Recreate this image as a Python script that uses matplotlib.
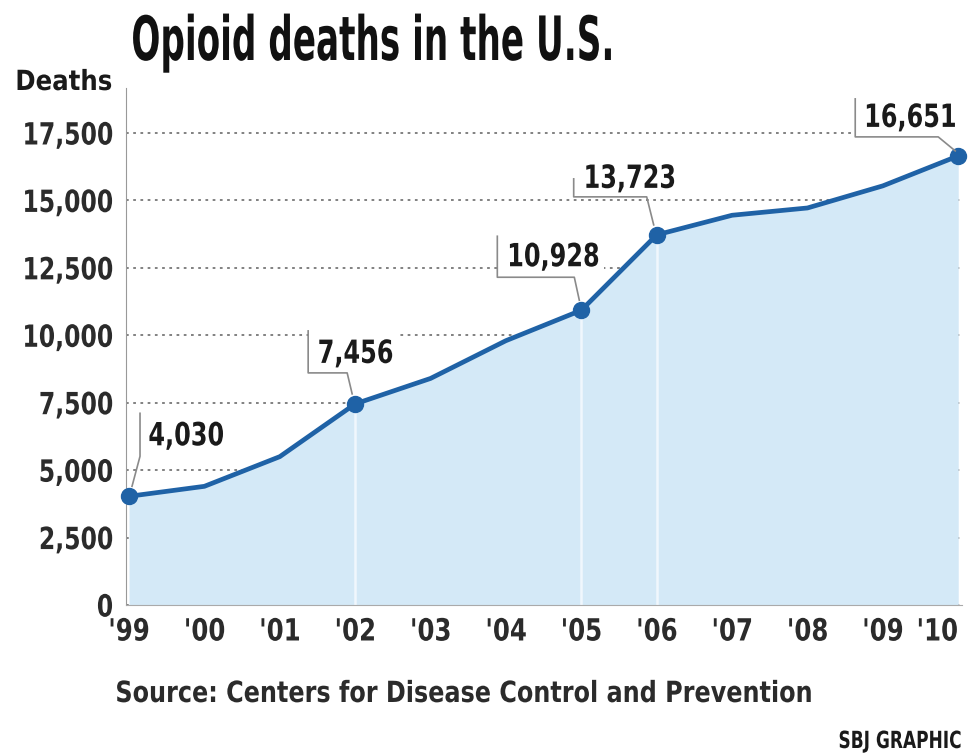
import matplotlib
matplotlib.use('Agg')
import matplotlib.pyplot as plt
from matplotlib.patches import Rectangle
from matplotlib.patheffects import AbstractPathEffect
from matplotlib.transforms import Affine2D, ScaledTranslation


class Squeeze(AbstractPathEffect):
    # narrows glyphs horizontally, keeping the left, centre or right edge in place
    def __init__(self, sx, anchor='left'):
        super().__init__()
        self.sx = sx
        self.anchor = anchor

    def draw_path(self, renderer, gc, tpath, affine, rgbFace=None):
        ext = tpath.get_extents(affine)
        x0 = {'left': ext.x0, 'center': (ext.x0 + ext.x1) / 2, 'right': ext.x1}[self.anchor]
        squeeze = Affine2D().translate(-x0, 0).scale(self.sx, 1).translate(x0, 0)
        renderer.draw_path(gc, tpath, affine + squeeze, rgbFace)


years = [1999, 2000, 2001, 2002, 2003, 2004, 2005, 2006, 2007, 2008, 2009, 2010]
deaths = [4030, 4400, 5500, 7456, 8400, 9800, 10928, 13723, 14450, 14720, 15540, 16651]
year_labels = ["'99", "'00", "'01", "'02", "'03", "'04", "'05", "'06", "'07", "'08", "'09", "'10"]
y_ticks = [0, 2500, 5000, 7500, 10000, 12500, 15000, 17500]
labeled_years = [1999, 2002, 2005, 2006, 2010]

# callout layout in pixels relative to each point: text start, then bracket polyline
callouts = {
    1999: ((19, 51), [(11, 83), (11, 40), (3, 10)]),
    2002: ((-38, 41), [(-47, 73), (-47, 31), (-8, 31), (-3, 10)]),
    2005: ((-75, 44), [(-84, 74), (-84, 33), (-7, 33), (-2, 10)]),
    2006: ((-74, 47), [(-83, 56), (-83, 38), (-10, 38), (-3, 10)]),
    2010: ((-95, 29), [(-103, 57), (-103, 19), (-20, 19), (-3, 5)]),
}

line_col = '#1f62a6'
fill_col = '#d4e9f7'
ink = '#1a1a1a'
num_squeeze = 0.75

fig = plt.figure(figsize=(9.74, 7.56), dpi=100)
ax = fig.add_axes([126 / 974, 151 / 756, 836 / 974, 517 / 756])

ax.fill_between(years, deaths, color=fill_col, zorder=2, lw=0)
vals = [deaths[years.index(y)] for y in labeled_years]
ax.vlines(labeled_years[1:4], 0, vals[1:4], color='#f0f7fd', lw=1.8, zorder=2.5)
ax.plot(years, deaths, color=line_col, lw=3.4, zorder=4, solid_capstyle='round')
ax.plot(labeled_years, vals, 'o', color=line_col, ms=11.5, zorder=5, clip_on=False)

ax.set_xlim(1998.96, 2010.05)
ax.set_ylim(0, 19168)
ax.set_yticks(y_ticks)
ax.set_yticklabels([f'{v:,}' for v in y_ticks])
ax.set_xticks(years)
ax.set_xticklabels(year_labels)
ax.yaxis.grid(True, linestyle=(0, (1.5, 2.5)), color='#777777', lw=1.3)
ax.set_axisbelow(True)
ax.tick_params(length=0, labelsize=22, labelcolor='#2b2b2b')
ax.tick_params(axis='y', pad=9)
ax.tick_params(axis='x', pad=9)
for lab in ax.get_yticklabels():
    lab.set_weight('bold')
    lab.set_path_effects([Squeeze(0.77, 'right')])
xlabs = ax.get_xticklabels()
for lab in xlabs:
    lab.set_weight('bold')
    lab.set_path_effects([Squeeze(0.8, 'center')])
# keep the last year inside the frame
xlabs[-1].set_ha('right')
xlabs[-1].set_path_effects([Squeeze(0.8, 'right')])

for side in ['top', 'right']:
    ax.spines[side].set_visible(False)
ax.spines['left'].set_color('#999999')
ax.spines['bottom'].set_color('#aaaaaa')

texts = []
for yr, v in zip(labeled_years, vals):
    (tx, ty), bracket = callouts[yr]
    trans = ScaledTranslation(yr, v, ax.transData)
    t = ax.text(tx, ty, f'{v:,}', transform=trans, ha='left', va='baseline',
                fontsize=23, weight='bold', color=ink, zorder=6,
                path_effects=[Squeeze(num_squeeze)])
    texts.append((t, trans, tx, ty, bracket))
    bx, by = zip(*bracket)
    ax.plot(bx, by, transform=trans, color='#8a8a8a', lw=1.2, zorder=6, clip_on=False)

# white panels behind the callouts so the grid stops at them
fig.canvas.draw()
for t, trans, tx, ty, bracket in texts:
    w = t.get_window_extent().width * num_squeeze
    x0 = bracket[0][0]
    y0 = min(bracket[1][1], ty - 8)
    ax.add_patch(Rectangle((x0, y0), tx + w + 5 - x0, ty + 30 - y0, transform=trans,
                           fc='white', ec='none', zorder=1))

fig.text(130 / 974, 1 - 60 / 756, 'Opioid deaths in the U.S.', fontsize=44,
         weight='bold', color='#111111', va='baseline',
         path_effects=[Squeeze(0.56)])
fig.text(15 / 974, 1 - 90 / 756, 'Deaths', fontsize=20, weight='bold',
         color=ink, va='baseline', path_effects=[Squeeze(0.88)])
fig.text(115 / 974, 1 - 702 / 756, 'Source: Centers for Disease Control and Prevention',
         fontsize=21, weight='bold', color='#2b2b2b', va='baseline',
         path_effects=[Squeeze(0.82)])
fig.text(838 / 974, 1 - 748 / 756, 'SBJ GRAPHIC', fontsize=17, weight='bold',
         color=ink, va='baseline', path_effects=[Squeeze(0.72)])

fig.savefig('out.png', dpi=100, facecolor='white')
